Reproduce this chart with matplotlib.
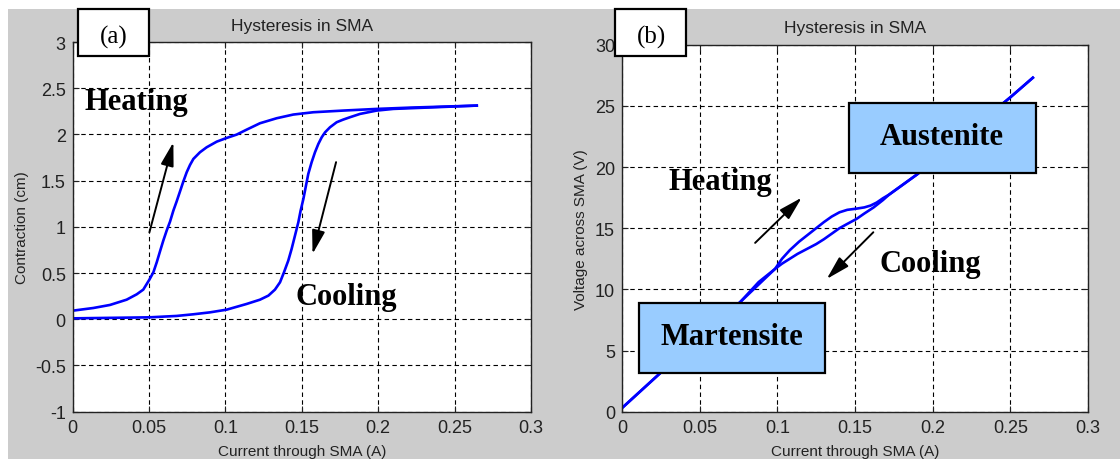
import numpy as np
import matplotlib
matplotlib.use("Agg")
import matplotlib.pyplot as plt
from matplotlib.patches import Rectangle

# contraction vs current, heating (upper) and cooling (lower) branches
contr_heat_i = [0, 0.0135, 0.0244, 0.0353, 0.0419, 0.0462, 0.0502, 0.0528, 0.055, 0.0571,
                0.0593, 0.0615, 0.0637, 0.0659, 0.068, 0.0702, 0.0724, 0.0746, 0.0768,
                0.079, 0.0833, 0.0877, 0.0943, 0.1008, 0.1073, 0.1139, 0.1226, 0.1335,
                0.1444, 0.1575, 0.177, 0.199, 0.2208, 0.2645]
contr_heat_c = [0.093, 0.122, 0.155, 0.212, 0.27, 0.321, 0.429, 0.508, 0.616, 0.732,
                0.851, 0.959, 1.056, 1.176, 1.273, 1.381, 1.49, 1.59, 1.67,
                1.735, 1.807, 1.861, 1.922, 1.962, 1.998, 2.052, 2.121, 2.175,
                2.215, 2.24, 2.258, 2.276, 2.29, 2.312]
contr_cool_i = [0.2645, 0.2099, 0.199, 0.1881, 0.1815, 0.177, 0.1728, 0.1684, 0.1652,
                0.163, 0.1608, 0.1586, 0.1564, 0.1542, 0.1527, 0.151, 0.1492, 0.1477,
                0.1455, 0.1433, 0.1411, 0.1383, 0.1357, 0.1324, 0.1281, 0.1226, 0.1139,
                0.1008, 0.0899, 0.079, 0.068, 0.0502, 0]
contr_cool_c = [2.312, 2.276, 2.258, 2.222, 2.186, 2.16, 2.132, 2.077, 2.023,
                1.969, 1.897, 1.807, 1.699, 1.572, 1.446, 1.302, 1.176, 1.05,
                0.905, 0.761, 0.634, 0.508, 0.40, 0.321, 0.256, 0.212, 0.166,
                0.104, 0.075, 0.054, 0.036, 0.021, 0.01]

# voltage vs current
volt_heat_i = [0, 0.025, 0.05, 0.076, 0.088, 0.0985, 0.103, 0.108, 0.114, 0.119, 0.125,
               0.13, 0.135, 0.14, 0.145, 0.151, 0.156, 0.16, 0.164, 0.168, 0.172,
               0.19, 0.21, 0.23, 0.25, 0.2645]
volt_heat_v = [0.3, 3.2, 6.1, 8.95, 10.4, 11.67, 12.5, 13.2, 13.9, 14.4, 15.0,
               15.5, 15.95, 16.3, 16.5, 16.6, 16.7, 16.85, 17.1, 17.45, 17.75,
               19.4, 21.5, 23.6, 25.7, 27.3]
volt_cool_i = [0.2645, 0.25, 0.23, 0.21, 0.19, 0.172, 0.168, 0.162, 0.156, 0.151, 0.145,
               0.14, 0.135, 0.13, 0.125, 0.119, 0.113, 0.108, 0.103, 0.0985, 0.088,
               0.076, 0.05, 0.025, 0]
volt_cool_v = [27.3, 25.7, 23.6, 21.5, 19.4, 17.75, 17.3, 16.7, 16.2, 15.76, 15.35,
               15.0, 14.55, 14.1, 13.7, 13.3, 12.9, 12.5, 12.1, 11.67, 10.6,
               8.95, 6.1, 3.2, 0.3]

x_ticks = [0, 0.05, 0.1, 0.15, 0.2, 0.25, 0.3]
x_ticklabels = ['0', '0.05', '0.1', '0.15', '0.2', '0.25', '0.3']
contr_ticks = [-1, -0.5, 0, 0.5, 1, 1.5, 2, 2.5, 3]
contr_ticklabels = ['-1', '-0.5', '0', '0.5', '1', '1.5', '2', '2.5', '3']
volt_ticks = [0, 5, 10, 15, 20, 25, 30]
volt_ticklabels = ['0', '5', '10', '15', '20', '25', '30']

W, H = 1120, 460
fig = plt.figure(figsize=(W / 100, H / 100), dpi=100, facecolor='white')

# grey figure area (white margin on the left and top)
fig.patches.append(Rectangle((8 / W, 0), 1 - 8 / W, 1 - 10 / H, transform=fig.transFigure,
                             facecolor='#cccccc', edgecolor='none', zorder=-10))

sans = 'Liberation Sans'
serif = 'Liberation Serif'


def setup(ax, yticks, yticklabels, ylim, ylabel):
    ax.set_facecolor('white')
    ax.set_xlim(0, 0.3)
    ax.set_ylim(*ylim)
    ax.set_xticks(x_ticks)
    ax.set_xticklabels(x_ticklabels, family=sans, fontsize=13, color='#222222')
    ax.set_yticks(yticks)
    ax.set_yticklabels(yticklabels, family=sans, fontsize=13, color='#222222')
    ax.tick_params(direction='in', length=4, width=0.8, top=True, right=True,
                   color='#222222', pad=5)
    ax.grid(True, color='black', linestyle=(0, (4, 3)), linewidth=0.8)
    for s in ax.spines.values():
        s.set_color('#222222')
        s.set_linewidth(1.0)
    ax.set_title('Hysteresis in SMA', family=sans, fontsize=12.5, color='#222222', pad=9)
    ax.set_xlabel('Current through SMA (A)', family=sans, fontsize=11, color='#222222')
    ax.set_ylabel(ylabel, family=sans, fontsize=11, color='#222222')


def arrow(ax, start, end):
    ax.annotate('', xy=end, xytext=start,
                arrowprops=dict(arrowstyle='-|>,head_width=0.22,head_length=0.8',
                                color='black', lw=1.4, mutation_scale=18,
                                shrinkA=0, shrinkB=0))


def bold(ax, x, y, s, ha='left'):
    ax.text(x, y, s, family=serif, fontsize=22, fontweight='bold', ha=ha,
            va='baseline', color='black', zorder=6)


# (a) contraction
ax1 = fig.add_axes([72.7 / W, 1 - 412.7 / H, 458.3 / W, 369.7 / H])
setup(ax1, contr_ticks, contr_ticklabels, (-1, 3), 'Contraction (cm)')
ax1.plot(contr_heat_i, contr_heat_c, color='#0000ff', lw=1.9)
ax1.plot(contr_cool_i, contr_cool_c, color='#0000ff', lw=1.9)
arrow(ax1, (0.0502, 0.94), (0.0659, 1.915))
arrow(ax1, (0.1724, 1.70), (0.157, 0.707))
bold(ax1, 0.0074, 2.28, 'Heating')
bold(ax1, 0.146, 0.166, 'Cooling')
ax1.yaxis.set_label_coords(-0.095, 0.5)
ax1.xaxis.set_label_coords(0.5, -0.087)

# (b) voltage
ax2 = fig.add_axes([622 / W, 1 - 412.7 / H, 466 / W, 367 / H])
setup(ax2, volt_ticks, volt_ticklabels, (0, 30), 'Voltage across SMA (V)')
ax2.plot(volt_heat_i, volt_heat_v, color='#0000ff', lw=1.9)
ax2.plot(volt_cool_i, volt_cool_v, color='#0000ff', lw=1.9)
arrow(ax2, (0.0857, 13.8), (0.1157, 17.5))
arrow(ax2, (0.1618, 14.67), (0.1318, 10.85))
bold(ax2, 0.0298, 18.2, 'Heating')
bold(ax2, 0.1655, 11.5, 'Cooling')
ax2.add_patch(Rectangle((0.146, 19.5), 0.2665 - 0.146, 25.2 - 19.5, facecolor='#99ccff',
                        edgecolor='black', lw=1.6, zorder=5, clip_on=False))
ax2.add_patch(Rectangle((0.011, 3.16), 0.131 - 0.011, 8.9 - 3.16, facecolor='#99ccff',
                        edgecolor='black', lw=1.6, zorder=5, clip_on=False))
bold(ax2, 0.206, 21.9, 'Austenite', ha='center')
bold(ax2, 0.071, 5.54, 'Martensite', ha='center')
ax2.yaxis.set_label_coords(-0.073, 0.5)
ax2.xaxis.set_label_coords(0.5, -0.088)

# panel tags
for x0, tag in [(78, '(a)'), (615, '(b)')]:
    fig.patches.append(Rectangle((x0 / W, 1 - 57 / H), 71 / W, 47 / H,
                                 transform=fig.transFigure, facecolor='white',
                                 edgecolor='black', lw=1.6, zorder=10))
    fig.text((x0 + 36) / W, 1 - 37 / H, tag, family=serif, fontsize=18,
             ha='center', va='center', zorder=11)

fig.savefig('out.png', dpi=100)
